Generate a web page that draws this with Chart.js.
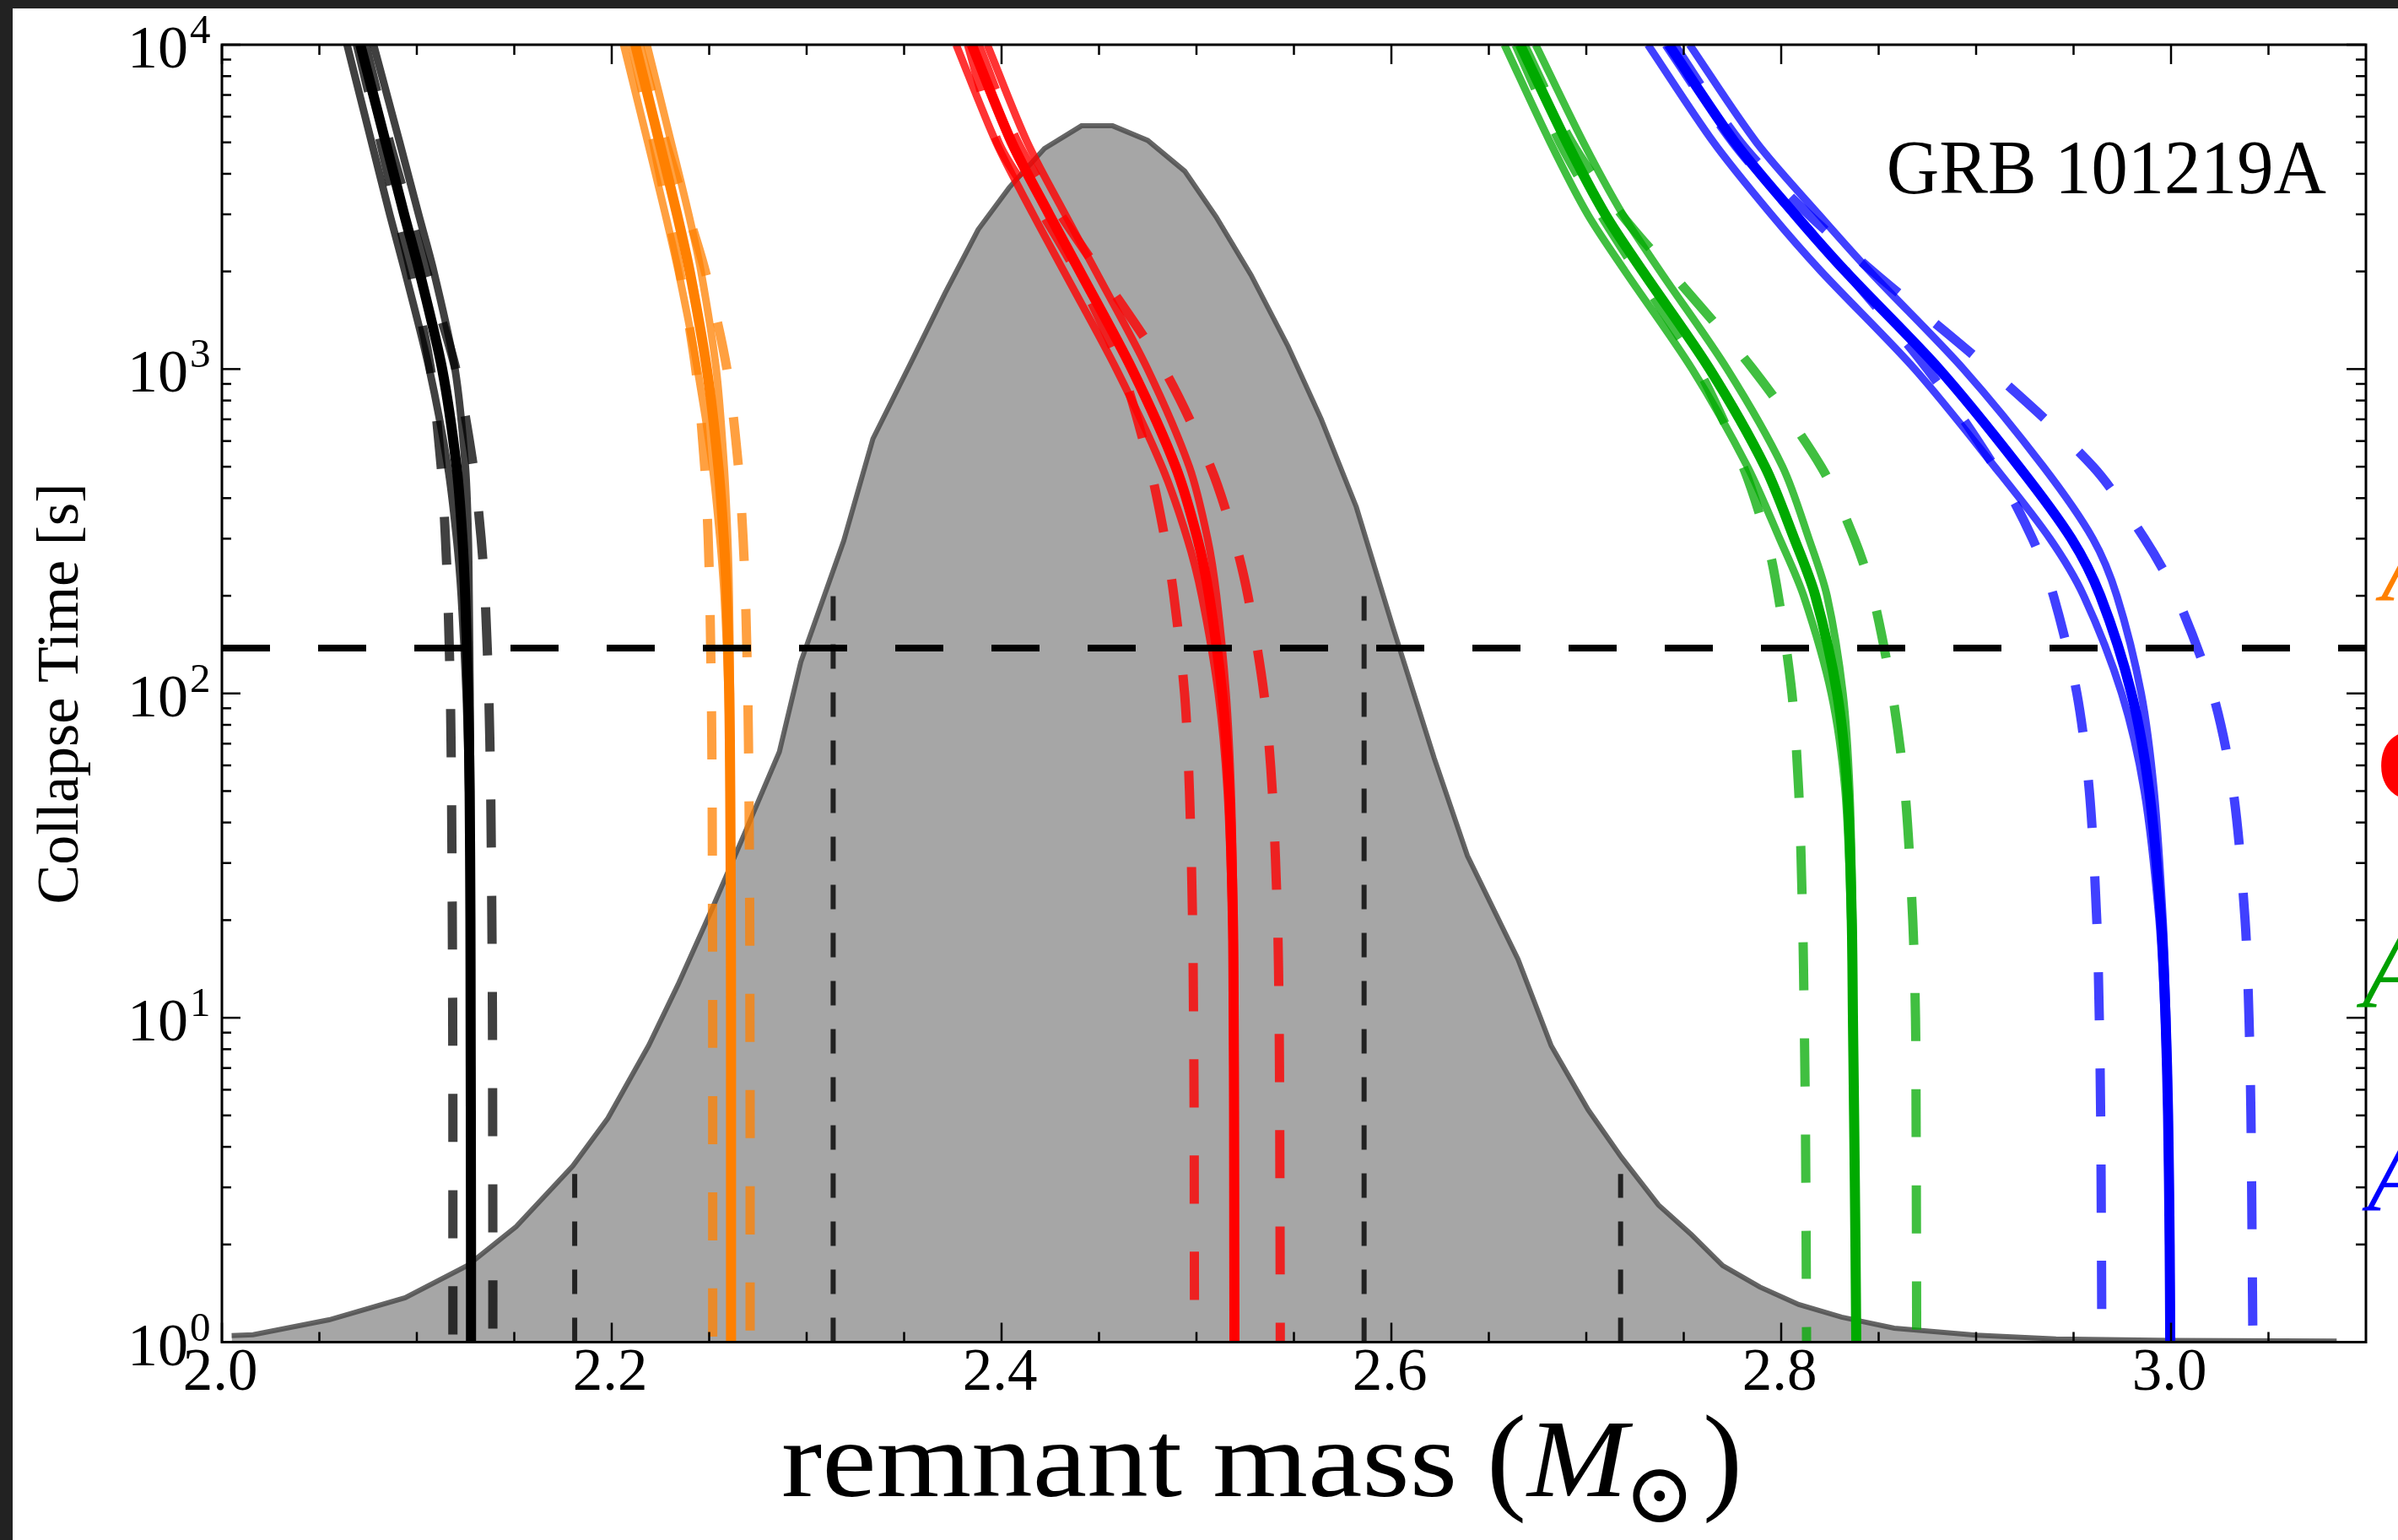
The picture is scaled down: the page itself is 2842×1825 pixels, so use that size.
<!DOCTYPE html>
<html>
<head>
<meta charset="utf-8">
<script src="https://cdn.jsdelivr.net/npm/chart.js@4.4.0/dist/chart.umd.min.js"></script>
<style>
  html, body { margin: 0; padding: 0; background: #fff; }
  #wrap { position: relative; width: 2842px; height: 1825px; overflow: hidden; }
  #bandTop { position: absolute; left: 0; top: 0; width: 2842px; height: 10px; background: #222; }
  #bandLeft { position: absolute; left: 0; top: 0; width: 15px; height: 1825px; background: #222; }
</style>
</head>
<body>
<div id="wrap">
  <canvas id="chart" width="2842" height="1825"></canvas>
  <div id="bandTop"></div>
  <div id="bandLeft"></div>
</div>
<script>
// collapse time grid (s), shared by all EOS curves
const timeGrid = [10000, 5000, 3000, 2000, 1000, 500, 300, 200, 100, 50, 20, 10, 5, 2, 1]

// remnant mass (Msun) along each curve
const slyMid    = [2.0710, 2.0840, 2.0935, 2.1013, 2.1130, 2.1204, 2.1234, 2.1248, 2.1263, 2.1271, 2.1275, 2.1276, 2.1277, 2.1278, 2.1278]
const slyLo     = [2.0642, 2.0768, 2.0861, 2.0939, 2.1064, 2.1159, 2.1204, 2.1228, 2.1253, 2.1266, 2.1272, 2.1274, 2.1275, 2.1276, 2.1276]
const slyHi     = [2.0778, 2.0912, 2.1009, 2.1087, 2.1196, 2.1249, 2.1264, 2.1268, 2.1273, 2.1276, 2.1278, 2.1278, 2.1279, 2.1280, 2.1280]
const slyDashLo = [2.0695, 2.0815, 2.0900, 2.0970, 2.1070, 2.1125, 2.1147, 2.1159, 2.1172, 2.1178, 2.1182, 2.1184, 2.1185, 2.1185, 2.1185]
const slyDashHi = [2.0735, 2.0860, 2.0965, 2.1050, 2.1200, 2.1290, 2.1330, 2.1350, 2.1369, 2.1379, 2.1385, 2.1388, 2.1389, 2.1390, 2.1390]

const aprMid    = [2.2121, 2.2245, 2.2335, 2.2400, 2.2488, 2.2547, 2.2575, 2.2590, 2.2603, 2.2608, 2.2611, 2.2612, 2.2612, 2.2612, 2.2612]
const aprLo     = [2.2061, 2.2185, 2.2275, 2.2342, 2.2440, 2.2517, 2.2555, 2.2577, 2.2597, 2.2605, 2.2609, 2.2610, 2.2610, 2.2610, 2.2610]
const aprHi     = [2.2181, 2.2305, 2.2395, 2.2458, 2.2536, 2.2577, 2.2595, 2.2603, 2.2609, 2.2611, 2.2613, 2.2614, 2.2614, 2.2614, 2.2614]
const aprDashLo = [2.2105, 2.2215, 2.2289, 2.2349, 2.2431, 2.2477, 2.2495, 2.2503, 2.2511, 2.2515, 2.2517, 2.2518, 2.2518, 2.2518, 2.2518]
const aprDashHi = [2.2140, 2.2277, 2.2392, 2.2480, 2.2591, 2.2650, 2.2674, 2.2686, 2.2698, 2.2704, 2.2708, 2.2709, 2.2710, 2.2710, 2.2710]

const gm1Mid    = [2.3847, 2.4052, 2.4244, 2.4402, 2.4669, 2.4893, 2.5005, 2.5065, 2.5132, 2.5168, 2.5187, 2.5191, 2.5193, 2.5194, 2.5195]
const gm1Lo     = [2.3767, 2.3972, 2.4162, 2.4320, 2.4589, 2.4823, 2.4953, 2.5027, 2.5112, 2.5158, 2.5182, 2.5187, 2.5189, 2.5190, 2.5191]
const gm1Hi     = [2.3927, 2.4132, 2.4326, 2.4484, 2.4749, 2.4963, 2.5057, 2.5103, 2.5152, 2.5178, 2.5192, 2.5195, 2.5197, 2.5198, 2.5199]
const gm1DashLo = [2.3830, 2.3981, 2.4212, 2.4382, 2.4615, 2.4761, 2.4838, 2.4884, 2.4939, 2.4964, 2.4980, 2.4985, 2.4988, 2.4989, 2.4990]
const gm1DashHi = [2.3880, 2.4081, 2.4302, 2.4501, 2.4833, 2.5072, 2.5194, 2.5264, 2.5346, 2.5389, 2.5416, 2.5424, 2.5427, 2.5429, 2.5430]

const abnMid    = [2.6660, 2.6900, 2.7097, 2.7290, 2.7633, 2.7917, 2.8067, 2.8175, 2.8287, 2.8340, 2.8362, 2.8368, 2.8374, 2.8381, 2.8385]
const abnLo     = [2.6580, 2.6815, 2.7007, 2.7200, 2.7543, 2.7827, 2.7992, 2.8115, 2.8257, 2.8328, 2.8357, 2.8365, 2.8371, 2.8378, 2.8382]
const abnHi     = [2.6740, 2.6985, 2.7187, 2.7380, 2.7723, 2.8007, 2.8142, 2.8235, 2.8317, 2.8352, 2.8367, 2.8371, 2.8377, 2.8384, 2.8388]
const abnDashLo = [2.6640, 2.6865, 2.7075, 2.7260, 2.7575, 2.7805, 2.7925, 2.7985, 2.8055, 2.8090, 2.8110, 2.8118, 2.8124, 2.8128, 2.8130]
const abnDashHi = [2.6680, 2.6925, 2.7180, 2.7430, 2.7855, 2.8205, 2.8375, 2.8471, 2.8570, 2.8635, 2.8675, 2.8689, 2.8692, 2.8694, 2.8695]

const ablMid    = [2.7423, 2.7763, 2.8070, 2.8330, 2.8810, 2.9220, 2.9489, 2.9637, 2.9797, 2.9888, 2.9949, 2.9972, 2.9985, 2.9993, 2.9996]
const ablLo     = [2.7316, 2.7653, 2.7948, 2.8205, 2.8685, 2.9095, 2.9379, 2.9552, 2.9747, 2.9863, 2.9939, 2.9966, 2.9981, 2.9989, 2.9992]
const ablHi     = [2.7530, 2.7873, 2.8192, 2.8455, 2.8935, 2.9345, 2.9599, 2.9722, 2.9847, 2.9913, 2.9959, 2.9978, 2.9989, 2.9997, 3.0000]
const ablDashLo = [2.7410, 2.7753, 2.8071, 2.8333, 2.8750, 2.9094, 2.9289, 2.9397, 2.9517, 2.9581, 2.9619, 2.9632, 2.9639, 2.9643, 2.9645]
const ablDashHi = [2.7450, 2.7790, 2.8140, 2.8470, 2.9068, 2.9600, 2.9864, 3.0027, 3.0214, 3.0319, 3.0380, 3.0400, 3.0410, 3.0416, 3.0420]

// remnant mass distribution (grey area)
const distMass = [2.005, 2.016, 2.055, 2.094, 2.126, 2.151, 2.180, 2.198, 2.219, 2.234, 2.252, 2.269, 2.286, 2.297, 2.319, 2.334,
  2.354, 2.371, 2.388, 2.404, 2.422, 2.441, 2.457, 2.475, 2.494, 2.510, 2.528, 2.547, 2.564, 2.582, 2.601, 2.622, 2.639, 2.665,
  2.682, 2.701, 2.718, 2.737, 2.754, 2.770, 2.789, 2.809, 2.831, 2.858, 2.900, 2.941, 3.000, 3.085]
const distValue = [1.047, 1.054, 1.172, 1.371, 1.722, 2.270, 3.491, 4.898, 8.222, 12.65, 22.03, 38.02, 66.07, 125.0, 295.1, 609.5,
  1062, 1714, 2692, 3631, 4786, 5623, 5623, 5070, 4074, 2951, 1950, 1175, 701.5, 375.8, 158.5, 63.1, 31.6, 15.14,
  8.20, 5.20, 3.715, 2.649, 2.143, 1.722, 1.479, 1.306, 1.194, 1.104, 1.050, 1.023, 1.012, 1.007]

// confidence interval markers
const confMass = [2.181, 2.3136, 2.586, 2.7176]
const confTop = [3.3, 200, 200, 3.3]

// observed plateau end time
const plateauTime = 138

// axes
const xTickValues = [2.0, 2.2, 2.4, 2.6, 2.8, 3.0]
const xTickLabels = ["2.0", "2.2", "2.4", "2.6", "2.8", "3.0"]
const xMinorTicks = [2.05, 2.1, 2.15, 2.25, 2.3, 2.35, 2.45, 2.5, 2.55, 2.65, 2.7, 2.75, 2.85, 2.9, 2.95, 3.05]
const yTickValues = [1, 10, 100, 1000, 10000]
const yTickExps = ["0", "1", "2", "3", "4"]
const yMinorTicks = [2, 3, 4, 5, 6, 7, 8, 9, 20, 30, 40, 50, 60, 70, 80, 90,
  200, 300, 400, 500, 600, 700, 800, 900, 2000, 3000, 4000, 5000, 6000, 7000, 8000, 9000]

const eosNames = ["APR", "GM1", "AB-N", "AB-L"]

const SERIF = '"Liberation Serif", "Times New Roman", serif'

function curve(masses, times, color, width, dash, order) {
  return {
    data: masses.map((m, i) => ({ x: m, y: times[i] })),
    borderColor: color,
    borderWidth: width,
    borderDash: dash || [],
    pointRadius: 0,
    showLine: true,
    fill: false,
    tension: 0.3,
    order: order,
    clip: 0
  }
}

function eosSet(mid, lo, hi, dlo, dhi, solid, faded) {
  return [
    curve(mid, timeGrid, solid, 12, null, 1),
    curve(lo, timeGrid, faded, 9, null, 2),
    curve(hi, timeGrid, faded, 9, null, 2),
    curve(dlo, timeGrid, faded, 11, [57, 57], 2),
    curve(dhi, timeGrid, faded, 11, [57, 57], 2)
  ]
}

const datasets = []
datasets.push({
  data: [{ x: 2.0, y: plateauTime }, { x: 3.1, y: plateauTime }],
  borderColor: "#000", borderWidth: 8, borderDash: [57, 57],
  pointRadius: 0, showLine: true, fill: false, order: 0, clip: 0
})
datasets.push(...eosSet(slyMid, slyLo, slyHi, slyDashLo, slyDashHi, "#000000", "rgba(0,0,0,0.75)"))
datasets.push(...eosSet(aprMid, aprLo, aprHi, aprDashLo, aprDashHi, "#ff8000", "rgba(255,128,0,0.75)"))
datasets.push(...eosSet(gm1Mid, gm1Lo, gm1Hi, gm1DashLo, gm1DashHi, "#ff0000", "rgba(255,0,0,0.8)"))
datasets.push(...eosSet(abnMid, abnLo, abnHi, abnDashLo, abnDashHi, "#00aa00", "rgba(0,170,0,0.75)"))
datasets.push(...eosSet(ablMid, ablLo, ablHi, ablDashLo, ablDashHi, "#0000ff", "rgba(0,0,255,0.75)"))
confMass.forEach((m, i) => {
  datasets.push({
    data: [{ x: m, y: 1 }, { x: m, y: confTop[i] }],
    borderColor: "#222", borderWidth: 6, borderDash: [29, 28],
    pointRadius: 0, showLine: true, fill: false, order: 3, clip: 0
  })
})
datasets.push({
  data: distMass.map((m, i) => ({ x: m, y: distValue[i] })),
  borderColor: "rgba(75,75,75,0.85)", borderWidth: 6,
  backgroundColor: "#a6a6a6", fill: "start",
  pointRadius: 0, showLine: true, tension: 0, order: 5, clip: 0
})

// draws text squeezed or stretched along x
function wideText(ctx, text, x, y, sx) {
  ctx.save()
  ctx.translate(x, y)
  ctx.scale(sx, 1)
  ctx.fillText(text, 0, 0)
  ctx.restore()
}

// frame, inward ticks and all text
const decor = {
  id: "decor",
  afterDatasetsDraw(chart) {
    const { ctx, chartArea: a, scales: { x, y } } = chart
    ctx.save()
    ctx.strokeStyle = "#000"
    ctx.lineWidth = 2.5
    const seg = (x1, y1, x2, y2) => { ctx.beginPath(); ctx.moveTo(x1, y1); ctx.lineTo(x2, y2); ctx.stroke() }
    xTickValues.forEach(v => {
      const px = x.getPixelForValue(v)
      seg(px, a.bottom, px, a.bottom - 23)
      seg(px, a.top, px, a.top + 23)
    })
    xMinorTicks.forEach(v => {
      const px = x.getPixelForValue(v)
      seg(px, a.bottom, px, a.bottom - 12)
      seg(px, a.top, px, a.top + 12)
    })
    yTickValues.forEach(v => {
      const py = y.getPixelForValue(v)
      seg(a.left, py, a.left + 22, py)
      seg(a.right, py, a.right - 23, py)
    })
    yMinorTicks.forEach(v => {
      const py = y.getPixelForValue(v)
      seg(a.left, py, a.left + 11, py)
      seg(a.right, py, a.right - 12, py)
    })
    ctx.lineWidth = 3
    ctx.strokeRect(a.left, a.top, a.right - a.left, a.bottom - a.top)
    ctx.restore()
  },
  afterDraw(chart) {
    const { ctx, scales: { x, y } } = chart
    ctx.save()
    ctx.fillStyle = "#000"
    ctx.textBaseline = "alphabetic"

    ctx.textAlign = "center"
    ctx.font = "71px " + SERIF
    xTickValues.forEach((v, i) => {
      ctx.fillText(xTickLabels[i], x.getPixelForValue(v) - 2, 1647)
    })

    yTickValues.forEach((v, i) => {
      const py = y.getPixelForValue(v)
      ctx.textAlign = "right"
      ctx.font = "72px " + SERIF
      ctx.fillText("10", 223, py + 27)
      ctx.textAlign = "left"
      ctx.font = "49px " + SERIF
      ctx.fillText(yTickExps[i], 225, py - 2)
    })

    // y title
    ctx.save()
    ctx.translate(92, 822)
    ctx.rotate(-Math.PI / 2)
    ctx.textAlign = "center"
    ctx.font = "70px " + SERIF
    ctx.fillText("Collapse Time [s]", 0, 0)
    ctx.restore()

    // x title
    ctx.textAlign = "left"
    ctx.font = "130px " + SERIF
    wideText(ctx, "remnant mass", 926, 1773, 1.115)
    ctx.font = "141px " + SERIF
    ctx.fillText("(", 1762, 1775)
    ctx.font = "italic 132px " + SERIF
    wideText(ctx, "M", 1810, 1773, 1.08)
    ctx.font = '100px "DejaVu Serif"'
    ctx.textAlign = "center"
    ctx.textBaseline = "middle"
    ctx.fillText("\u2299", 1967, 1778)
    ctx.textAlign = "left"
    ctx.textBaseline = "alphabetic"
    ctx.font = "141px " + SERIF
    ctx.fillText(")", 2018, 1775)

    // burst name
    ctx.textAlign = "right"
    ctx.font = "91px " + SERIF
    wideText(ctx, "GRB 101219A", 2757, 229, 0.95)

    // EOS labels, mostly outside the picture
    ctx.textAlign = "left"
    ctx.fillStyle = "#ff8000"
    ctx.font = "italic 120px " + SERIF
    ctx.fillText(eosNames[0], 2822, 712)
    ctx.fillStyle = "#ff0000"
    ctx.font = "bold 125px " + SERIF
    ctx.fillText(eosNames[1], 2816, 948)
    ctx.fillStyle = "#00a000"
    ctx.font = "italic 130px " + SERIF
    ctx.fillText(eosNames[2], 2800, 1194)
    ctx.fillStyle = "#0000ff"
    ctx.font = "italic 120px " + SERIF
    ctx.fillText(eosNames[3], 2806, 1435)
    ctx.restore()
  }
}

new Chart(document.getElementById("chart").getContext("2d"), {
  type: "scatter",
  data: { datasets: datasets },
  options: {
    responsive: false,
    animation: false,
    devicePixelRatio: 1,
    layout: { padding: { left: 263, top: 53, right: 38, bottom: 234.5 } },
    plugins: { legend: { display: false }, tooltip: { enabled: false } },
    scales: {
      x: { type: "linear", min: 2.0, max: 3.1, display: false },
      y: { type: "logarithmic", min: 1, max: 10000, display: false }
    }
  },
  plugins: [decor]
})
</script>
</body>
</html>
